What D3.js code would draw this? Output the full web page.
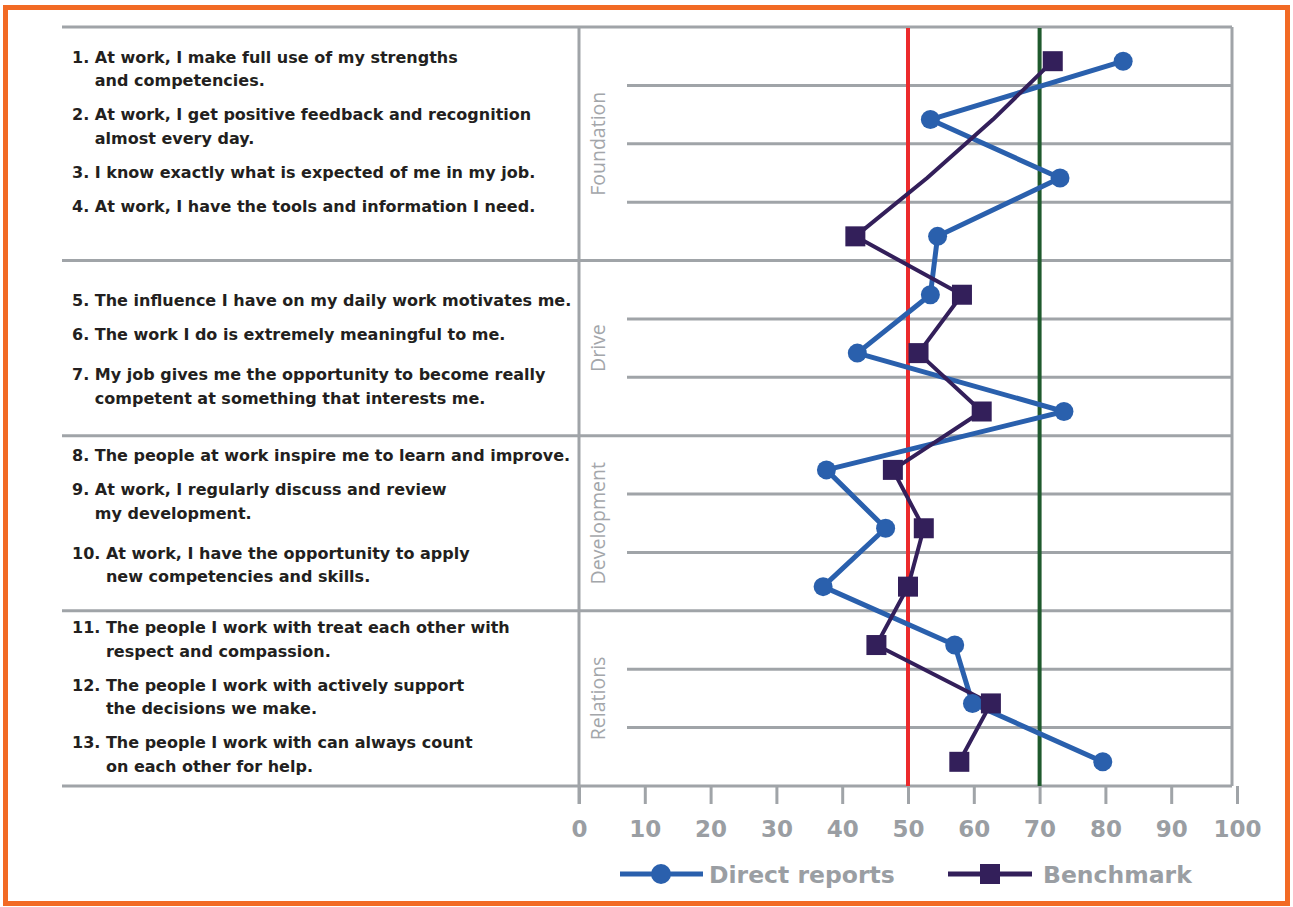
<!DOCTYPE html>
<html>
<head>
<meta charset="utf-8">
<script src="https://cdn.jsdelivr.net/npm/d3@7"></script>
<style>
  html, body { margin: 0; padding: 0; background: #ffffff; }
  svg { display: block; }
</style>
</head>
<body>
<svg id="chart" width="1293" height="907"></svg>
<script>
// ---- data -------------------------------------------------------------
const sections = ["Foundation", "Drive", "Development", "Relations"];
const sectionSizes = [4, 3, 3, 3];

const questions = [
  ["1. At work, I make full use of my strengths", "and competencies."],
  ["2. At work, I get positive feedback and recognition", "almost every day."],
  ["3. I know exactly what is expected of me in my job."],
  ["4. At work, I have the tools and information I need."],
  ["5. The influence I have on my daily work motivates me."],
  ["6. The work I do is extremely meaningful to me."],
  ["7. My job gives me the opportunity to become really", "competent at something that interests me."],
  ["8. The people at work inspire me to learn and improve."],
  ["9. At work, I regularly discuss and review", "my development."],
  ["10. At work, I have the opportunity to apply", "new competencies and skills."],
  ["11. The people I work with treat each other with", "respect and compassion."],
  ["12. The people I work with actively support", "the decisions we make."],
  ["13. The people I work with can always count", "on each other for help."]
];

const directReports = [82.7, 53.4, 73.1, 54.5, 53.4, 42.3, 73.7, 37.6, 46.6, 37.1, 57.1, 59.8, 79.6];
const benchmark     = [72.0, 62.9, 52.9, 42.0, 58.2, 51.6, 61.2, 47.7, 52.4, 50.0, 45.2, 62.6, 57.8];
// benchmark points drawn as line vertices only (no square marker)
const benchmarkUnmarked = [2, 3];

const xTicks = [0, 10, 20, 30, 40, 50, 60, 70, 80, 90, 100];
const thresholds = [50, 70];
const seriesNames = ["Direct reports", "Benchmark"];

// ---- layout -----------------------------------------------------------
const labelLeft = 62, divider = 579, frameRight = 1232;
const plotTop = 27, plotBottom = 786;

const GRID = "#a0a4a8", BLUE = "#2a60ad", PURPLE = "#331f5a";
const RED = "#ec2a2c", GREEN = "#1f5a2d", ORANGE = "#f26a24";
const TEXT = "#231f20", AXIS_TEXT = "#9a9ea3";

const svg = d3.select("#chart");

const ids = questions.map((d, i) => i + 1);
const x = d3.scaleLinear().domain([0, 100]).range([divider, 1237]);
const yBand = d3.scaleBand().domain(ids).range([plotTop, plotBottom]);
const markerY = id => yBand(id) + yBand.bandwidth() / 2 + 5;

// outer orange frame
svg.append("rect")
  .attr("x", 5.5).attr("y", 7.5)
  .attr("width", 1282).attr("height", 896)
  .attr("fill", "none").attr("stroke", ORANGE).attr("stroke-width", 5);

// section boundaries (full width) and row separators (plot only)
const sectionStarts = d3.cumsum([0, ...sectionSizes]).slice(0, -1).map(v => v + 1);
const grid = svg.append("g").attr("stroke", GRID).attr("stroke-width", 3).attr("fill", "none");

ids.forEach(id => {
  if (sectionStarts.includes(id)) return;
  grid.append("line")
    .attr("x1", 627).attr("x2", frameRight)
    .attr("y1", yBand(id)).attr("y2", yBand(id));
});
[...sectionStarts.map(id => yBand(id)), plotBottom].forEach(yy => {
  grid.append("line")
    .attr("x1", labelLeft).attr("x2", frameRight)
    .attr("y1", yy).attr("y2", yy);
});
// right frame edge
grid.append("line")
  .attr("x1", frameRight).attr("x2", frameRight)
  .attr("y1", plotTop).attr("y2", plotBottom);
// divider between labels and plot, running down to the tick marks
grid.append("line")
  .attr("x1", divider).attr("x2", divider)
  .attr("y1", plotTop).attr("y2", plotBottom + 18);

// x axis
const xAxis = d3.axisBottom(x).tickValues(xTicks).tickSize(18).tickPadding(17).tickSizeOuter(0);
const axisG = svg.append("g").attr("transform", `translate(0,${plotBottom})`).call(xAxis);
axisG.select(".domain").remove();
axisG.selectAll(".tick line").attr("stroke", GRID).attr("stroke-width", 3);
axisG.selectAll(".tick text")
  .attr("fill", AXIS_TEXT)
  .style("font-family", "'DejaVu Sans', Verdana, sans-serif")
  .style("font-weight", "bold")
  .style("font-size", "23px");

// threshold lines
const thresholdColors = [RED, GREEN];
svg.append("g").selectAll("line").data(thresholds).join("line")
  .attr("x1", d => x(d)).attr("x2", d => x(d))
  .attr("y1", plotTop + 1).attr("y2", plotBottom)
  .attr("stroke", (d, i) => thresholdColors[i]).attr("stroke-width", 4);

// section labels (rotated)
sections.forEach((name, i) => {
  const first = sectionStarts[i];
  const last = first + sectionSizes[i] - 1;
  const cy = (yBand(first) + yBand(last) + yBand.bandwidth()) / 2;
  svg.append("text")
    .attr("transform", `translate(605,${cy}) rotate(-90)`)
    .attr("text-anchor", "middle")
    .attr("fill", "#a3a6aa")
    .style("font-family", "'Open Sans', sans-serif")
    .style("font-weight", 400)
    .style("font-size", "19.5px")
    .text(name);
});

// question labels, flowed within each section
const textG = svg.append("g")
  .attr("fill", TEXT)
  .style("font-family", "'DejaVu Sans', Verdana, sans-serif")
  .style("font-weight", "bold")
  .style("font-size", "16px");

const lineStep = 23.5, itemStep = 34;
const sectionTextOffset = [35.7, 45.7, 25.7, 22.6];
const extraGap = {7: 6, 10: 6};

sections.forEach((name, s) => {
  let base = yBand(sectionStarts[s]) + sectionTextOffset[s];
  for (let k = 0; k < sectionSizes[s]; k++) {
    const id = sectionStarts[s] + k;
    if (k > 0) base += itemStep + (extraGap[id] || 0);
    const lines = questions[id - 1];
    textG.append("text").attr("x", 72).attr("y", base).text(lines[0]);
    // continuation lines align with the text after the question number
    const prefix = lines[0].match(/^\d+\.\s/)[0];
    const probe = textG.append("text").attr("x", 0).attr("y", -100)
      .attr("xml:space", "preserve").style("white-space", "pre").text(prefix);
    const indent = probe.node().getComputedTextLength();
    probe.remove();
    lines.slice(1).forEach(ln => {
      base += lineStep;
      textG.append("text").attr("x", 72 + indent).attr("y", base).text(ln);
    });
  }
});

// series lines
const line = d3.line().x(d => x(d.v)).y(d => markerY(d.id));
const drData = directReports.map((v, i) => ({id: i + 1, v}));
const bmData = benchmark.map((v, i) => ({id: i + 1, v}));

svg.append("path").datum(drData)
  .attr("d", line).attr("fill", "none")
  .attr("stroke", BLUE).attr("stroke-width", 5).attr("stroke-linejoin", "round");
svg.append("path").datum(bmData)
  .attr("d", line).attr("fill", "none")
  .attr("stroke", PURPLE).attr("stroke-width", 4).attr("stroke-linejoin", "round");

svg.append("g").selectAll("circle").data(drData).join("circle")
  .attr("cx", d => x(d.v)).attr("cy", d => markerY(d.id)).attr("r", 9.5)
  .attr("fill", BLUE);
svg.append("g").selectAll("rect")
  .data(bmData.filter(d => !benchmarkUnmarked.includes(d.id))).join("rect")
  .attr("x", d => x(d.v) - 10).attr("y", d => markerY(d.id) - 10)
  .attr("width", 20).attr("height", 20)
  .attr("fill", PURPLE);

// legend
const legendY = 874;
const lg = svg.append("g");
lg.append("line").attr("x1", 620).attr("x2", 703).attr("y1", legendY).attr("y2", legendY)
  .attr("stroke", BLUE).attr("stroke-width", 5);
lg.append("circle").attr("cx", 661).attr("cy", legendY).attr("r", 10).attr("fill", BLUE);
lg.append("line").attr("x1", 948).attr("x2", 1032).attr("y1", legendY).attr("y2", legendY)
  .attr("stroke", PURPLE).attr("stroke-width", 5);
lg.append("rect").attr("x", 980).attr("y", legendY - 10).attr("width", 20).attr("height", 20)
  .attr("fill", PURPLE);
[[709, seriesNames[0]], [1043, seriesNames[1]]].forEach(([lx, t]) => {
  lg.append("text").attr("x", lx).attr("y", 883)
    .attr("fill", AXIS_TEXT)
    .style("font-family", "'DejaVu Sans', Verdana, sans-serif")
    .style("font-weight", "bold")
    .style("font-size", "23.5px")
    .text(t);
});
</script>
</body>
</html>
